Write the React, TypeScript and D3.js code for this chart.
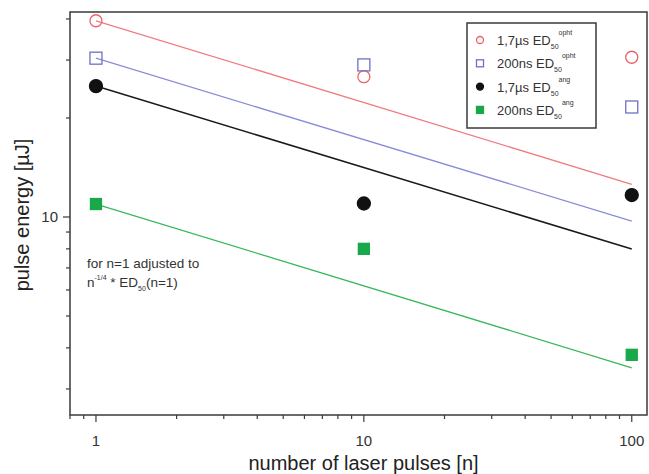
import React from 'react';
import * as d3 from 'd3';

// number of pulses at which ED50 was measured
const pulses = [1, 10, 100];

// measured ED50 values [µJ]
const ophtLong = [39.5, 26.7, 30.6]; // 1,7µs opht
const ophtShort = [30.4, 29.0, 21.6]; // 200ns opht
const angLong = [25.0, 10.99, 11.66]; // 1,7µs ang
const angShort = [10.95, 8.0, 3.81]; // 200ns ang

// n^-1/4 lines, start and end
const fitPulses = [1, 100];
const fitOphtLong = [39.5, 12.57];
const fitOphtShort = [30.4, 9.72];
const fitAngLong = [25.0, 7.99];
const fitAngShort = [10.95, 3.48];

const xMajor = [1, 10, 100];
const xMajorLabels = ['1', '10', '100'];
const xMinor = [0.8, 0.9, 2, 3, 4, 5, 6, 7, 8, 9, 20, 30, 40, 50, 60, 70, 80, 90];
const yMajor = [10];
const yMajorLabels = ['10'];
const yMinor = [3, 4, 5, 6, 7, 8, 9, 20, 30, 40];

const FONT = '"Liberation Sans", Arial, Helvetica, sans-serif';

const W = 649;
const H = 474;
const left = 70;
const right = 647;
const top = 12;
const bottom = 415;

const series = [
  { name: '1,7µs', sup: 'opht', values: ophtLong, fit: fitOphtLong, shape: 'circle', fill: 'none', stroke: '#e8646a', line: '#f07c80' },
  { name: '200ns', sup: 'opht', values: ophtShort, fit: fitOphtShort, shape: 'square', fill: 'none', stroke: '#6e70c4', line: '#8a8cd8' },
  { name: '1,7µs', sup: 'ang', values: angLong, fit: fitAngLong, shape: 'circle', fill: '#111', stroke: '#111', line: '#1a1a1a' },
  { name: '200ns', sup: 'ang', values: angShort, fit: fitAngShort, shape: 'square', fill: '#19a84a', stroke: '#19a84a', line: '#38b95a' },
];

function Marker({ shape, cx, cy, size, fill, stroke }) {
  if (shape === 'circle') {
    return <circle cx={cx} cy={cy} r={size / 2} fill={fill} stroke={stroke} strokeWidth={1.3} />;
  }
  return (
    <rect x={cx - size / 2} y={cy - size / 2} width={size} height={size} fill={fill} stroke={stroke} strokeWidth={1.3} />
  );
}

export default function App() {
  const x = d3.scaleLog().domain([0.8, 114]).range([left, right]);
  const y = d3.scaleLog().domain([2.5, 42]).range([bottom, top]);

  const line = d3
    .line<[number, number]>()
    .x((d) => x(d[0]))
    .y((d) => y(d[1]));

  return (
    <svg width={W} height={H} style={{ position: 'absolute', left: 0, top: 0, background: '#fff' }} fontFamily={FONT}>
      {/* fit lines */}
      {series.map((s, i) => (
        <path
          key={'l' + i}
          d={line(fitPulses.map((n, j) => [n, s.fit[j]]))}
          fill="none"
          stroke={s.line}
          strokeWidth={s.fill === '#111' ? 1.6 : 1.3}
        />
      ))}

      {/* markers */}
      {series.map((s, i) =>
        s.values.map((v, j) => (
          <Marker
            key={'m' + i + '-' + j}
            shape={s.shape}
            cx={x(pulses[j])}
            cy={y(v)}
            size={s.shape === 'circle' ? (s.fill === 'none' ? 12 : 13) : s.fill === 'none' ? 12 : 11}
            fill={s.fill}
            stroke={s.stroke}
          />
        ))
      )}

      {/* frame */}
      <rect x={left} y={top} width={right - left} height={bottom - top} fill="none" stroke="#3a3a3a" strokeWidth={1.5} />

      {/* x ticks */}
      {xMinor.map((t) => (
        <line key={'xm' + t} x1={x(t)} x2={x(t)} y1={bottom} y2={bottom + 4} stroke="#3a3a3a" strokeWidth={1.2} />
      ))}
      {xMajor.map((t, i) => (
        <g key={'xM' + t}>
          <line x1={x(t)} x2={x(t)} y1={bottom} y2={bottom + 7} stroke="#3a3a3a" strokeWidth={1.2} />
          <text x={x(t)} y={bottom + 31} textAnchor="middle" fontSize={15} fill="#333">
            {xMajorLabels[i]}
          </text>
        </g>
      ))}

      {/* y ticks */}
      {yMinor.map((t) => (
        <line key={'ym' + t} x1={left - 4} x2={left} y1={y(t)} y2={y(t)} stroke="#3a3a3a" strokeWidth={1.2} />
      ))}
      {yMajor.map((t, i) => (
        <g key={'yM' + t}>
          <line x1={left - 7} x2={left} y1={y(t)} y2={y(t)} stroke="#3a3a3a" strokeWidth={1.2} />
          <text x={left - 12} y={y(t) + 5} textAnchor="end" fontSize={15} fill="#333">
            {yMajorLabels[i]}
          </text>
        </g>
      ))}

      {/* axis titles */}
      <text x={(left + right) / 2 + 5} y={470} textAnchor="middle" fontSize={20} fill="#222">
        number of laser pulses [n]
      </text>
      <text transform="translate(29,215) rotate(-90)" textAnchor="middle" fontSize={20} fill="#222">
        pulse energy [µJ]
      </text>

      {/* annotation */}
      <text x={87} y={268} fontSize={13.5} fill="#333">
        for n=1 adjusted to
      </text>
      <text x={87} y={287} fontSize={13.5} fill="#333">
        n
        <tspan fontSize={7} dy={-7}>-1/4</tspan>
        <tspan dy={7}> * ED</tspan>
        <tspan fontSize={7} dy={4}>50</tspan>
        <tspan dy={-4}>(n=1)</tspan>
      </text>

      {/* legend */}
      <rect x={467} y={23} width={129} height={105} fill="#fff" stroke="#3a3a3a" strokeWidth={1.5} />
      {series.map((s, i) => {
        const ly = 40 + i * 23.3;
        return (
          <g key={'lg' + i}>
            <Marker
              shape={s.shape}
              cx={480}
              cy={ly}
              size={s.shape === 'circle' ? 7 : 7}
              fill={s.fill}
              stroke={s.stroke}
            />
            <text x={497} y={ly + 5} fontSize={13} fill="#333">
              {s.name} ED
              <tspan fontSize={7} dy={4}>50</tspan>
              <tspan fontSize={7} dy={-14}>{s.sup}</tspan>
            </text>
          </g>
        );
      })}
    </svg>
  );
}
